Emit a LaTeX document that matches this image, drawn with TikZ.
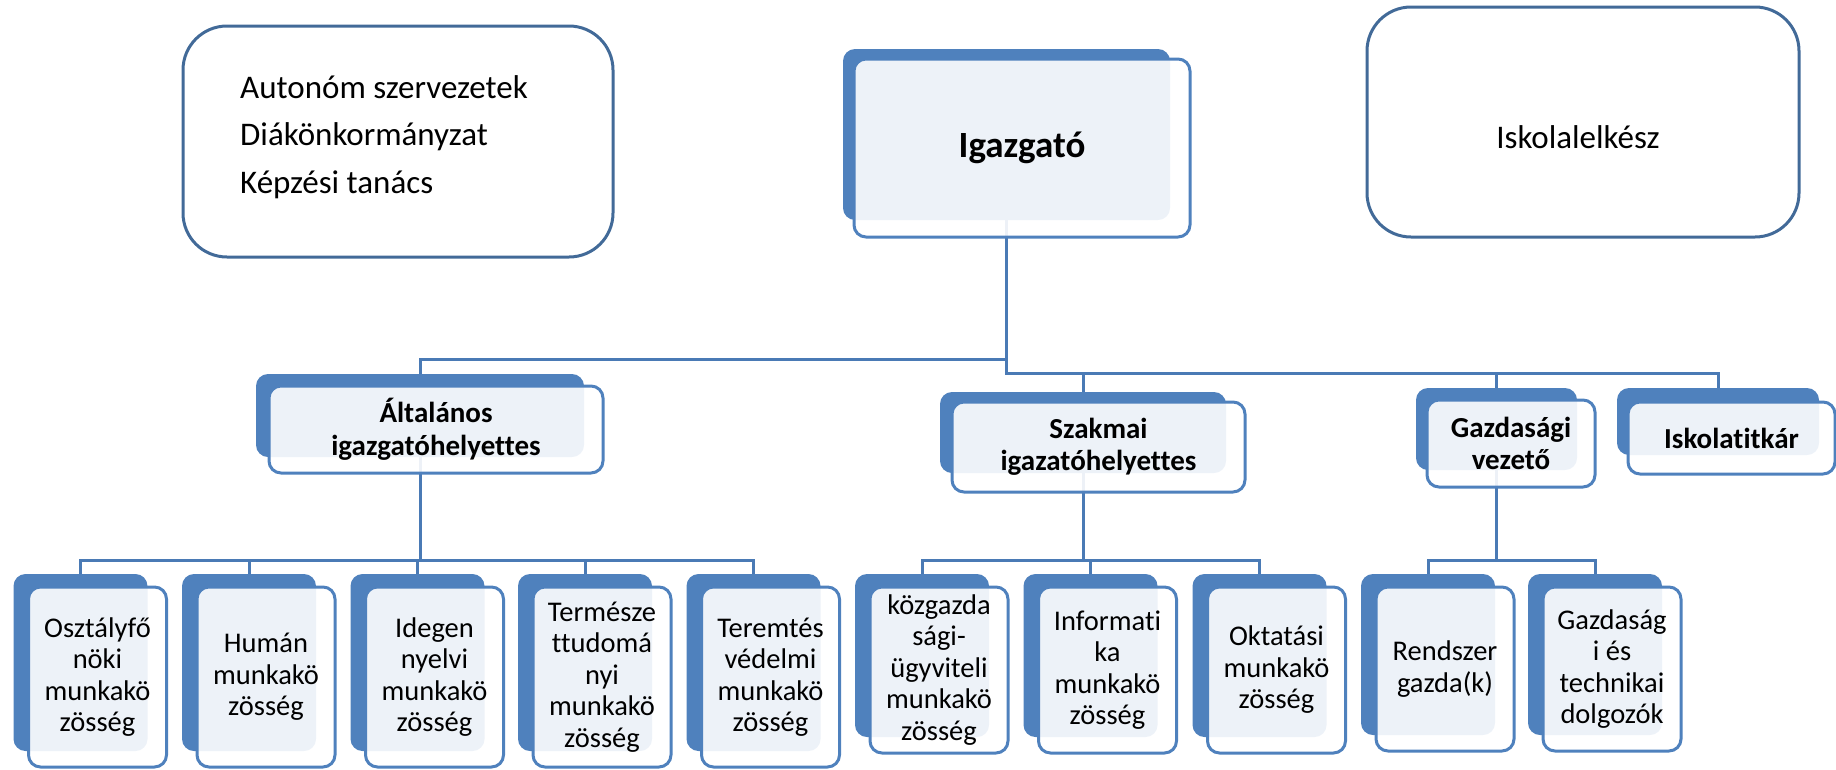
\documentclass[tikz,border=0pt]{standalone}
\usepackage{fontspec}
\setmainfont{Carlito}[Ligatures=NoCommon]
\usetikzlibrary{calc}
\pgfdeclarelayer{background}
\pgfsetlayers{background,main}
\definecolor{bluef}{HTML}{4F81BD}
\definecolor{linec}{HTML}{4A7AB5}
\definecolor{plainc}{HTML}{426A98}
\tikzset{
 backbox/.style={rectangle, rounded corners=12pt, fill=bluef, draw=none, inner sep=0pt, outer sep=0pt},
 frontbox/.style={rectangle, rounded corners=12pt, draw=bluef, line width=3pt, fill=white, fill opacity=0.9, text opacity=1, inner sep=0pt, outer sep=0pt, align=center},
 conn/.style={draw=linec, line width=3pt},
 plainbox/.style={rectangle, rounded corners=44pt, draw=plainc, line width=3pt, inner sep=0pt},
 fone/.style={font=\fontsize{37}{44}\selectfont\bfseries},
 ftwo/.style={font=\fontsize{29}{32.5}\selectfont\bfseries},
 fthree/.style={font=\fontsize{28.5}{31.5}\selectfont},
 fplain/.style={font=\fontsize{33}{47.5}\selectfont},
}
\newcommand\leaf[4]{%
 \node[backbox, minimum width=134pt, minimum height={#3-590}] (#1B) at ({#2},{(#3+558)/2}) {};
 \node[frontbox, fthree, minimum width=138pt, minimum height={#3-587}] (#1) at ({#2+17},{(#3+587)/2}) {#4};}
\begin{document}
\begin{tikzpicture}[x=1pt, y=-1pt]
\useasboundingbox (0,0) rectangle (1836,769);
% plain boxes
\node[plainbox, minimum width=430pt, minimum height=231pt] (aut) at (398,141.5) {};
\node[fplain, anchor=west, align=left, inner sep=0pt] (autT) at (240,137) {Autonóm szervezetek\\Diákönkormányzat\\Képzési tanács};
\node[plainbox, minimum width=432pt, minimum height=230pt] (lelk) at (1583,122) {};
\node[fplain, inner sep=0pt] (lelkT) at (1578,137) {Iskolalelkész};
% top
\node[backbox, minimum width=327pt, minimum height=171pt] (igB) at (1006.5,134.5) {};
\node[frontbox, fone, minimum width=336pt, minimum height=178pt] (ig) at (1022,148) {Igazgató};
% level 2
\node[backbox, minimum width=328pt, minimum height=83pt] (alB) at (420,415.5) {};
\node[frontbox, ftwo, minimum width=334pt, minimum height=87pt] (al) at (436,429.5) {Általános\\igazgatóhelyettes};
\node[backbox, minimum width=286pt, minimum height=81pt] (szB) at (1083,432.5) {};
\node[frontbox, ftwo, minimum width=293pt, minimum height=90pt] (sz) at (1098.5,447) {Szakmai\\igazatóhelyettes};
\node[backbox, minimum width=161pt, minimum height=82pt] (gzB) at (1496.5,429) {};
\node[frontbox, ftwo, minimum width=168pt, minimum height=87pt] (gz) at (1511,443.5) {Gazdasági\\vezető};
\node[backbox, minimum width=202pt, minimum height=67pt] (itB) at (1718,421.5) {};
\node[frontbox, ftwo, minimum width=207pt, minimum height=72pt] (it) at (1731.5,438) {Iskolatitkár};
% level 3
\leaf{ca}{80.5}{767}{Osztályfő\\nöki\\munkakö\\zösség}
\leaf{cb}{249}{767}{Humán\\munkakö\\zösség}
\leaf{cc}{417.5}{767}{Idegen\\nyelvi\\munkakö\\zösség}
\leaf{cd}{585}{767}{Természe\\ttudomá\\nyi\\munkakö\\zösség}
\leaf{ce}{753.5}{767}{Teremtés\\védelmi\\munkakö\\zösség}
\leaf{cf}{922}{753}{közgazda\\sági-\\ügyviteli\\munkakö\\zösség}
\leaf{cg}{1090.5}{753}{Informati\\ka\\munkakö\\zösség}
\leaf{ch}{1259.5}{753}{Oktatási\\munkakö\\zösség}
\leaf{ci}{1428}{751}{Rendszer\\gazda(k)}
\leaf{cj}{1595}{751}{Gazdaság\\i és\\technikai\\dolgozók}
% connectors
\coordinate (busL) at (0,359);
\coordinate (busR) at (0,373);
\coordinate (busC) at (0,560);
\begin{pgfonlayer}{background}
\draw[conn] (igB.south) -- (igB.south |- busL) -| (alB.north);
\foreach \n in {szB,gzB,itB} \draw[conn] (igB.south) -- (igB.south |- busR) -| (\n.north);
\foreach \n in {caB,cbB,ccB,cdB,ceB} \draw[conn] (alB.south) -- (alB.south |- busC) -| (\n.north);
\foreach \n in {cfB,cgB,chB} \draw[conn] (szB.south) -- (szB.south |- busC) -| (\n.north);
\foreach \n in {ciB,cjB} \draw[conn] (gzB.south) -- (gzB.south |- busC) -| (\n.north);
\end{pgfonlayer}
\end{tikzpicture}
\end{document}
